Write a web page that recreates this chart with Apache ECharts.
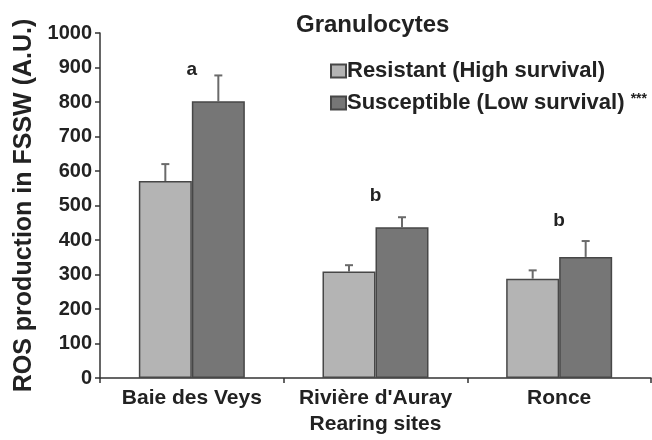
<!DOCTYPE html>
<html>
<head>
<meta charset="utf-8">
<script src="https://cdn.jsdelivr.net/npm/echarts@6/dist/echarts.min.js"></script>
<style>
html,body{margin:0;padding:0;background:#fff;}
#chart{width:652px;height:440px;}
</style>
</head>
<body>
<div id="chart"></div>
<script>
var categories = ['Baie des Veys', "Rivi\u00e8re d'Auray", 'Ronce'];
var resistant = [571, 309, 288];
var resistantErr = [49, 18, 24];
var susceptible = [802, 437, 351];
var susceptibleErr = [75, 29, 46];
var letters = ['a', 'b', 'b'];
var letterY = [893, 527, 455];
var yTicks = [0, 1000, 100];

var FONT = "'Liberation Sans', Arial, Helvetica, sans-serif";
var BAR_W = 53;
var lightColor = '#b4b4b4';
var darkColor = '#767676';
var edge = '#474747';

function errRender(offsetSign, vals, errs) {
  return function (params, api) {
    var i = api.value(0);
    var top = api.coord([i, vals[i] + errs[i]]);
    var base = api.coord([i, vals[i]]);
    var x = base[0] + offsetSign * BAR_W / 2;
    return {
      type: 'group',
      children: [
        {type: 'line', shape: {x1: x, y1: base[1], x2: x, y2: top[1]}, style: {stroke: '#6a6a6a', lineWidth: 2}},
        {type: 'line', shape: {x1: x - 4, y1: top[1], x2: x + 4, y2: top[1]}, style: {stroke: '#6a6a6a', lineWidth: 2}}
      ]
    };
  };
}

var chart = echarts.init(document.getElementById('chart'));
chart.setOption({
  animation: false,
  backgroundColor: '#fff',
  title: {
    text: 'Granulocytes',
    left: 291, top: 8,
    textStyle: {fontFamily: FONT, fontWeight: 'bold', fontSize: 24, color: '#222'}
  },
  legend: {
    orient: 'vertical',
    left: 325, top: 55,
    icon: 'rect',
    itemWidth: 15, itemHeight: 13, itemGap: 10,
    data: ['Resistant (High survival)', 'Susceptible (Low survival)'],
    formatter: function (name) {
      return name.indexOf('Susceptible') === 0 ? name + ' {s|***}' : name;
    },
    textStyle: {
      fontFamily: FONT, fontWeight: 'bold', fontSize: 22, color: '#222', padding: [0, 0, 0, -4],
      rich: {s: {fontFamily: FONT, fontWeight: 'bold', fontSize: 14, color: '#222', verticalAlign: 'top', padding: [0, 0, 7, 0]}}
    }
  },
  grid: {left: 100, right: 1, top: 33, bottom: 60, containLabel: false},
  xAxis: {
    type: 'category',
    data: categories,
    name: 'Rearing sites',
    nameLocation: 'middle',
    nameGap: 36,
    nameTextStyle: {fontFamily: FONT, fontWeight: 'bold', fontSize: 21, color: '#222'},
    axisLine: {lineStyle: {color: '#333', width: 1.5}},
    axisTick: {show: true, alignWithLabel: false, length: 5, lineStyle: {color: '#333', width: 1.5}},
    axisLabel: {fontFamily: FONT, fontWeight: 'bold', fontSize: 21, color: '#222', margin: 10, interval: 0}
  },
  yAxis: {
    type: 'value',
    min: yTicks[0], max: yTicks[1], interval: yTicks[2],
    name: 'ROS production in FSSW (A.U.)',
    nameLocation: 'middle',
    nameGap: 52,
    nameTextStyle: {fontFamily: FONT, fontWeight: 'bold', fontSize: 25, color: '#222'},
    axisLine: {show: true, lineStyle: {color: '#333', width: 1.5}},
    axisTick: {show: true, length: 5, lineStyle: {color: '#333', width: 1.5}},
    splitLine: {show: false},
    axisLabel: {fontFamily: FONT, fontWeight: 'bold', fontSize: 20, color: '#222', margin: 8,
                formatter: function (v) { return String(v); }}
  },
  series: [
    {
      name: 'Resistant (High survival)', type: 'bar', data: resistant,
      barWidth: BAR_W, barGap: '0%',
      itemStyle: {color: lightColor, borderColor: edge, borderWidth: 1.5}
    },
    {
      name: 'Susceptible (Low survival)', type: 'bar', data: susceptible,
      barWidth: BAR_W, barGap: '0%',
      itemStyle: {color: darkColor, borderColor: edge, borderWidth: 1.5}
    },
    {
      type: 'custom', z: 1,
      data: categories.map(function (c, i) { return [i, resistant[i]]; }),
      renderItem: errRender(-1, resistant, resistantErr)
    },
    {
      type: 'custom', z: 1,
      data: categories.map(function (c, i) { return [i, susceptible[i]]; }),
      renderItem: errRender(1, susceptible, susceptibleErr)
    },
    {
      type: 'custom', z: 3,
      data: categories.map(function (c, i) { return [i, letterY[i]]; }),
      renderItem: function (params, api) {
        var i = api.value(0);
        var p = api.coord([i, api.value(1)]);
        return {
          type: 'text',
          style: {x: p[0], y: p[1], text: letters[i], fill: '#222', align: 'center', verticalAlign: 'middle',
                  font: 'bold 19px ' + FONT}
        };
      }
    }
  ]
});
</script>
</body>
</html>
